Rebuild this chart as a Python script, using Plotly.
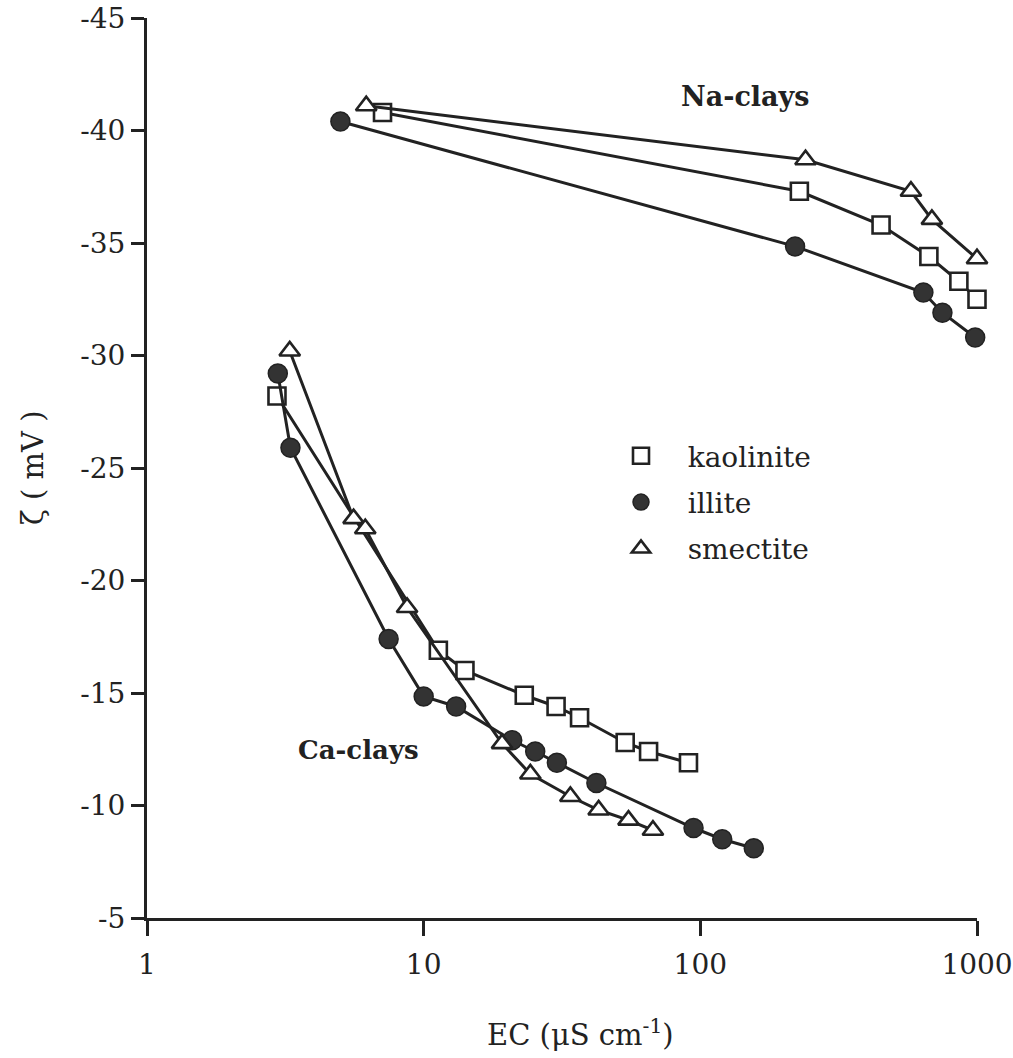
import plotly.graph_objects as go

# ---- data ----
# Na-clays
na_kaol_ec = [7.1, 228, 450, 670, 860, 1000]
na_kaol_z = [-40.8, -37.3, -35.8, -34.4, -33.3, -32.5]
na_illite_ec = [5.0, 220, 640, 750, 985]
na_illite_z = [-40.4, -34.85, -32.8, -31.9, -30.8]
na_smec_ec = [6.2, 240, 577, 687, 1000]
na_smec_z = [-41.1, -38.7, -37.3, -36.05, -34.3]

# Ca-clays
ca_kaol_ec = [2.95, 11.3, 14.1, 23.1, 30.1, 36.6, 53.5, 65.0, 90.6]
ca_kaol_z = [-28.2, -16.9, -16.0, -14.9, -14.4, -13.9, -12.8, -12.4, -11.9]
ca_illite_ec = [2.97, 3.3, 7.47, 10.0, 13.1, 20.9, 25.3, 30.3, 42.1, 94.5, 120, 156]
ca_illite_z = [-29.2, -25.9, -17.4, -14.85, -14.4, -12.9, -12.4, -11.9, -11.0, -9.0, -8.5, -8.1]
ca_smec_ec = [3.28, 5.58, 6.15, 8.71, 19.2, 24.3, 33.9, 42.9, 55.0, 67.4]
ca_smec_z = [-30.2, -22.75, -22.3, -18.8, -12.75, -11.4, -10.4, -9.8, -9.35, -8.9]

x_tickvals = [1, 10, 100, 1000]
x_ticktext = ["1", "10", "100", "1000"]
y_tickvals = [-45, -40, -35, -30, -25, -20, -15, -10, -5]
y_ticktext = ["-45", "-40", "-35", "-30", "-25", "-20", "-15", "-10", "-5"]

legend_names = ["kaolinite", "illite", "smectite"]

# ---- styles ----
INK = "#222222"
FONT = "DejaVu Serif"
LINE = dict(color=INK, width=3)
styles = {
    "kaolinite": dict(symbol="square", size=17, color="white", line=dict(color=INK, width=2.6)),
    "illite": dict(symbol="circle", size=19, color="#333333", line=dict(color=INK, width=1.5)),
    "smectite": dict(symbol="triangle-up", size=18, color="white", line=dict(color=INK, width=2.6)),
}

fig = go.Figure()

series = [
    ("kaolinite", na_kaol_ec, na_kaol_z),
    ("illite", na_illite_ec, na_illite_z),
    ("smectite", na_smec_ec, na_smec_z),
    ("kaolinite", ca_kaol_ec, ca_kaol_z),
    ("illite", ca_illite_ec, ca_illite_z),
    ("smectite", ca_smec_ec, ca_smec_z),
]
for name, xs, ys in series:
    fig.add_trace(go.Scatter(
        x=xs, y=ys, mode="lines+markers", line=LINE,
        marker=styles[name], showlegend=False, cliponaxis=False,
    ))

# legend entries (markers only)
for i, name in enumerate(legend_names):
    fig.add_trace(go.Scatter(
        x=[None], y=[None], mode="markers", marker=styles[name],
        name="\u00a0\u00a0\u00a0" + name, legendgroup=name, showlegend=True,
    ))

ML, MR, MT, MB = 147, 36, 18, 140
W, H = 1013, 1058
plot_w = W - ML - MR
plot_h = H - MT - MB


def px_x(p):
    return (p - ML) / plot_w


def px_y(p):
    return (H - MB - p) / plot_h


fig.update_layout(
    width=W, height=H,
    margin=dict(l=ML, r=MR, t=MT, b=MB, autoexpand=False),
    paper_bgcolor="white", plot_bgcolor="white",
    font=dict(family=FONT, size=28, color=INK),
    showlegend=True,
    legend=dict(
        x=px_x(621), y=px_y(431), xanchor="left", yanchor="top",
        bgcolor="rgba(0,0,0,0)", font=dict(family=FONT, size=28, color=INK),
        tracegroupgap=7, itemsizing="trace",
    ),
    xaxis=dict(
        type="log", range=[0, 3], automargin=False,
        tickvals=x_tickvals, ticktext=x_ticktext,
        showline=True, linecolor=INK, linewidth=3,
        ticks="outside", ticklen=15, tickwidth=2.5, tickcolor=INK,
        showgrid=False, zeroline=False,
        ticklabelstandoff=4,
        tickfont=dict(family=FONT, size=28, color=INK),
    ),
    yaxis=dict(
        range=[-5, -45], automargin=False,
        tickvals=y_tickvals, ticktext=y_ticktext,
        showline=True, linecolor=INK, linewidth=3,
        ticks="outside", ticklen=13, tickwidth=2.5, tickcolor=INK,
        showgrid=False, zeroline=False,
        ticklabelstandoff=0,
        tickfont=dict(family=FONT, size=28, color=INK),
    ),
    annotations=[
        dict(text="<b>Na-clays</b>", x=2.162, y=-41.5, xref="x", yref="y",
             showarrow=False, xanchor="center", yanchor="middle",
             font=dict(family=FONT, size=27, color=INK)),
        dict(text="<b>Ca-clays</b>", x=0.7637, y=-12.45, xref="x", yref="y",
             showarrow=False, xanchor="center", yanchor="middle",
             font=dict(family=FONT, size=26, color=INK)),
        dict(text="\u03b6 ( mV )", x=px_x(33), y=px_y(468), xref="paper", yref="paper",
             showarrow=False, textangle=-90, xanchor="center", yanchor="middle",
             font=dict(family=FONT, size=29, color=INK)),
        dict(text="EC (\u03bcS cm<sup>-1</sup>)", x=px_x(580), y=px_y(1033), xref="paper", yref="paper",
             showarrow=False, xanchor="center", yanchor="middle",
             font=dict(family=FONT, size=29, color=INK)),
    ],
)

fig.write_html("out.html")
